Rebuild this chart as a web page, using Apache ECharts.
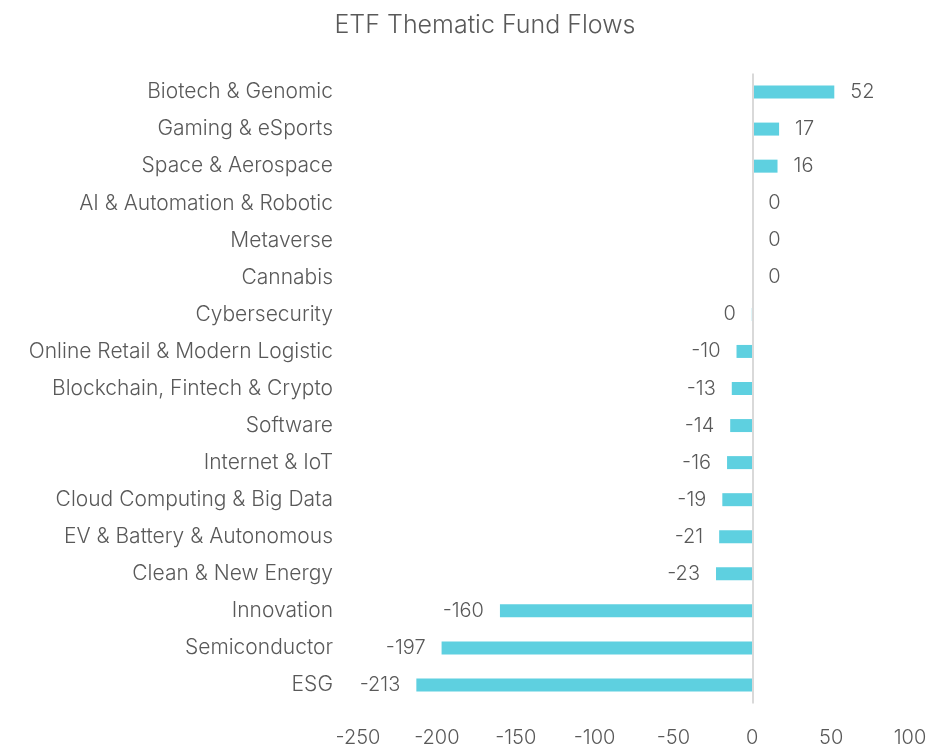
<!DOCTYPE html>
<html>
<head>
<meta charset="utf-8">
<title>ETF Thematic Fund Flows</title>
<script src="https://cdn.jsdelivr.net/npm/echarts@6/dist/echarts.min.js"></script>
<style>
  html, body { margin: 0; padding: 0; background: #fff; }
  #chart { width: 932px; height: 751px; }
</style>
</head>
<body>
<div id="chart"></div>
<script>
  'use strict'

  /*-----data-----*/
  var categories = [
    'Biotech & Genomic', 'Gaming & eSports', 'Space & Aerospace',
    'AI & Automation & Robotic', 'Metaverse', 'Cannabis', 'Cybersecurity',
    'Online Retail & Modern Logistic', 'Blockchain, Fintech & Crypto',
    'Software', 'Internet & IoT', 'Cloud Computing & Big Data',
    'EV & Battery & Autonomous', 'Clean & New Energy', 'Innovation',
    'Semiconductor', 'ESG'
  ];
  var flows = [52, 17, 16, 0, 0, 0, -0.3, -10, -13, -14, -16, -19, -21, -23, -160, -197, -213];
  var xTicks = [-250, 100, 50]; // min, max, step

  var textColor = '#595959';
  var font = 'Inter, "Noto Sans", sans-serif';

  var barData = flows.map(function (v) {
    return {
      value: v,
      label: { position: v < 0 ? 'left' : 'right' }
    };
  });

  var option = {
    animation: false,
    title: {
      text: 'ETF Thematic Fund Flows',
      left: 480,
      top: 8,
      textAlign: 'center',
      textStyle: { color: textColor, fontSize: 25, fontWeight: 300, fontFamily: font }
    },
    grid: {
      top: 73.5,
      bottom: 47.5,
      left: 358,
      right: 22
    },
    xAxis: {
      type: 'value',
      min: xTicks[0],
      max: xTicks[1],
      interval: xTicks[2],
      axisLine: { show: false },
      axisTick: { show: false },
      splitLine: { show: false },
      axisLabel: { color: textColor, fontSize: 20, fontWeight: 300, fontFamily: font, margin: 24 }
    },
    yAxis: {
      type: 'category',
      data: categories,
      inverse: true,
      axisLine: { show: false },
      axisTick: { show: false },
      axisLabel: { color: textColor, fontSize: 21, fontWeight: 300, fontFamily: font, margin: 25 }
    },
    series: [{
      type: 'bar',
      data: barData,
      barWidth: 13,
      itemStyle: { color: '#5ed0e0' },
      label: {
        show: true,
        distance: 16,
        color: textColor,
        fontSize: 20,
        fontWeight: 300,
        fontFamily: font,
        formatter: function (p) { return String(Math.round(p.value) || 0); }
      },
      markLine: {
        silent: true,
        symbol: 'none',
        label: { show: false },
        lineStyle: { color: '#d9d9d9', width: 2, type: 'solid' },
        data: [{ xAxis: 0 }]
      }
    }]
  };

  var chart = echarts.init(document.getElementById('chart'));
  chart.setOption(option);
</script>
</body>
</html>
